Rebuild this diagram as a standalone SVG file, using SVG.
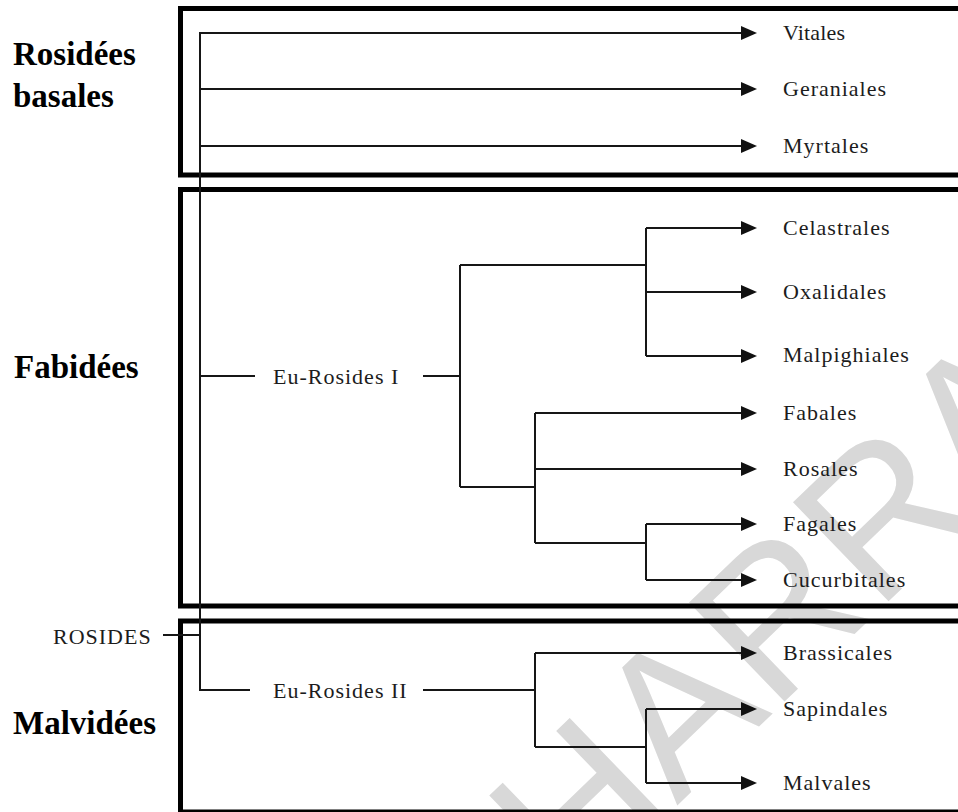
<svg xmlns="http://www.w3.org/2000/svg" width="958" height="812" viewBox="0 0 958 812">
  <defs>
    <marker id="arrow" viewBox="0 0 16 14" refX="4" refY="7" markerWidth="16" markerHeight="14" markerUnits="userSpaceOnUse" orient="auto">
      <path d="M0,0 L16,7 L0,14 Z" fill="#111"/>
    </marker>
  </defs>
  <style>
    .box{fill:none;stroke:#000;stroke-width:5}
    .ln{fill:none;stroke:#161616;stroke-width:2}
    .arr{fill:none;stroke:#161616;stroke-width:2;marker-end:url(#arrow)}
    .leaf{font-family:"Liberation Serif","Times New Roman",serif;font-size:22px;letter-spacing:1px;fill:#1c1c1c}
    .clade{font-family:"Liberation Serif","Times New Roman",serif;font-size:33px;font-weight:bold;fill:#000}
    .wm{font-family:"Liberation Sans",Arial,sans-serif;font-size:200px;fill:#d8d8d8}
  </style>
  <rect width="958" height="812" fill="#fff"/>

  <!-- background stamp -->
  <g id="stamp">
    <text class="wm" transform="translate(573,906) rotate(-44)">HARRA</text>
  </g>

  <!-- group frames -->
  <g id="frames">
    <rect class="box" x="180.5" y="8.5" width="800" height="166.5"/>
    <rect class="box" x="180.5" y="189.5" width="800" height="416.5"/>
    <rect class="box" x="180.5" y="621" width="800" height="191"/>
  </g>

  <!-- tree branches -->
  <g id="connectors">
    <path class="ln" d="M200,32 V691"/>
    <path class="ln" d="M163,635 H200"/>
    <path class="arr" d="M200,33 H745"/>
    <path class="arr" d="M200,89 H745"/>
    <path class="arr" d="M200,146 H745"/>

    <path class="ln" d="M200,376 H255 M423,376 H460"/>
    <path class="ln" d="M460,265 V487"/>
    <path class="ln" d="M460,265 H646 M646,228 V356"/>
    <path class="arr" d="M646,228 H745"/>
    <path class="arr" d="M646,292 H745"/>
    <path class="arr" d="M646,356 H745"/>
    <path class="ln" d="M460,487 H535 M535,413 V543"/>
    <path class="arr" d="M535,413 H745"/>
    <path class="arr" d="M535,469 H745"/>
    <path class="ln" d="M535,543 H646 M646,524 V580"/>
    <path class="arr" d="M646,524 H745"/>
    <path class="arr" d="M646,580 H745"/>

    <path class="ln" d="M200,690 H250 M423,690 H535"/>
    <path class="ln" d="M535,653 V747 M535,747 H646 M646,709 V783"/>
    <path class="arr" d="M535,653 H745"/>
    <path class="arr" d="M646,709 H745"/>
    <path class="arr" d="M646,783 H745"/>
  </g>

  <!-- group names -->
  <g id="rosidees-basales">
    <text class="clade" x="13" y="65">Rosidées</text>
    <text class="clade" x="13" y="107">basales</text>
  </g>
  <g id="fabidees"><text class="clade" x="14" y="378">Fabidées</text></g>
  <g id="malvidees"><text class="clade" x="13" y="734">Malvidées</text></g>

  <!-- internal nodes -->
  <g id="rosides"><text class="leaf" x="53" y="644">ROSIDES</text></g>
  <g id="eu-rosides-1"><text class="leaf" x="273" y="384">Eu-Rosides I</text></g>
  <g id="eu-rosides-2"><text class="leaf" x="273" y="698">Eu-Rosides II</text></g>

  <!-- orders -->
  <g id="vitales"><text class="leaf" x="783" y="40" textLength="63">Vitales</text></g>
  <g id="geraniales"><text class="leaf" x="783" y="96">Geraniales</text></g>
  <g id="myrtales"><text class="leaf" x="783" y="153">Myrtales</text></g>
  <g id="celastrales"><text class="leaf" x="783" y="235">Celastrales</text></g>
  <g id="oxalidales"><text class="leaf" x="783" y="299">Oxalidales</text></g>
  <g id="malpighiales"><text class="leaf" x="783" y="362">Malpighiales</text></g>
  <g id="fabales"><text class="leaf" x="783" y="420">Fabales</text></g>
  <g id="rosales"><text class="leaf" x="783" y="476">Rosales</text></g>
  <g id="fagales"><text class="leaf" x="783" y="531">Fagales</text></g>
  <g id="cucurbitales"><text class="leaf" x="783" y="587">Cucurbitales</text></g>
  <g id="brassicales"><text class="leaf" x="783" y="660">Brassicales</text></g>
  <g id="sapindales"><text class="leaf" x="783" y="716">Sapindales</text></g>
  <g id="malvales"><text class="leaf" x="783" y="790">Malvales</text></g>
</svg>
